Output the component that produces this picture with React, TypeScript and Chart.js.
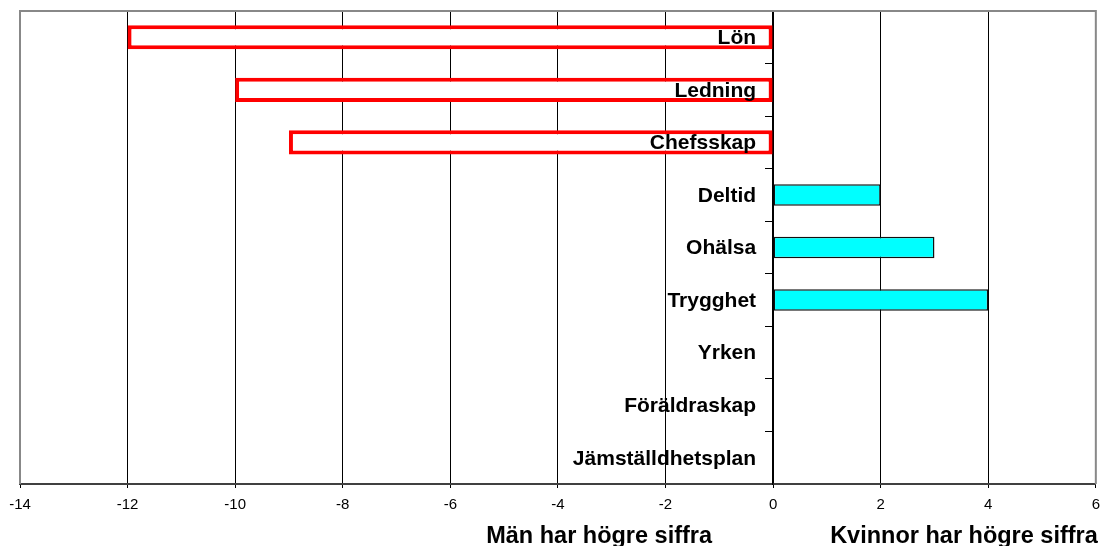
import React, { useEffect, useRef } from "react";
import { Chart, registerables } from "chart.js";

Chart.register(...registerables);

const categories = [
  "Lön",
  "Ledning",
  "Chefsskap",
  "Deltid",
  "Ohälsa",
  "Trygghet",
  "Yrken",
  "Föräldraskap",
  "Jämställdhetsplan",
];
const values = [-12, -10, -9, 2, 3, 4, 0, 0, 0];
const xTicks = [-14, -12, -10, -8, -6, -4, -2, 0, 2, 4, 6];
const leftTitle = "Män har högre siffra";
const rightTitle = "Kvinnor har högre siffra";

const FONT = "'Liberation Sans', Arial, sans-serif";

export default function App() {
  const ref = useRef<HTMLCanvasElement | null>(null);

  useEffect(() => {
    document.body.style.margin = "0";
    const canvas = ref.current;
    if (!canvas) return;

    const overlay = {
      id: "overlay",
      beforeDatasetsDraw(chart: any) {
        const { ctx, chartArea } = chart;
        ctx.save();
        ctx.strokeStyle = "#888888";
        ctx.lineWidth = 2;
        ctx.beginPath();
        ctx.moveTo(chartArea.left, chartArea.bottom);
        ctx.lineTo(chartArea.left, chartArea.top);
        ctx.lineTo(chartArea.right, chartArea.top);
        ctx.lineTo(chartArea.right, chartArea.bottom);
        ctx.stroke();
        ctx.restore();
      },
      afterDraw(chart: any) {
        const { ctx, chartArea, scales } = chart;
        const x0 = scales.x.getPixelForValue(0);
        ctx.save();
        ctx.fillStyle = "#000";
        ctx.textBaseline = "middle";
        ctx.textAlign = "right";
        ctx.font = `bold 21px ${FONT}`;
        categories.forEach((c, i) => {
          ctx.fillText(c, x0 - 17, scales.y.getPixelForValue(i) + 1);
        });
        ctx.font = `bold 23.5px ${FONT}`;
        ctx.textBaseline = "alphabetic";
        ctx.fillText(leftTitle, x0 - 61, chartArea.bottom + 59);
        ctx.fillText(rightTitle, chartArea.right + 2, chartArea.bottom + 59);
        ctx.restore();
      },
    };

    const chart = new Chart(canvas, {
      type: "bar",
      data: {
        labels: categories,
        datasets: [
          {
            data: values.map((v) => (v < 0 ? v : null)),
            backgroundColor: "#ffffff",
            borderColor: "#ff0000",
            borderWidth: 4,
            borderSkipped: false,
            barPercentage: 0.46,
            categoryPercentage: 1,
          },
          {
            data: values.map((v) => (v > 0 ? v : null)),
            backgroundColor: "#00ffff",
            borderColor: "#111111",
            borderWidth: 1.5,
            borderSkipped: false,
            barPercentage: 0.41,
            categoryPercentage: 1,
          },
        ],
      },
      options: {
        indexAxis: "y",
        animation: false,
        responsive: true,
        maintainAspectRatio: false,
        datasets: { bar: { grouped: false } },
        layout: { padding: { left: 20, right: 11, top: 11, bottom: 24 } },
        plugins: {
          legend: { display: false },
          tooltip: { enabled: false },
        },
        scales: {
          x: {
            type: "linear",
            min: -14,
            max: 6,
            afterBuildTicks: (scale: any) => {
              scale.ticks = xTicks.map((v) => ({ value: v }));
            },
            ticks: {
              color: "#000",
              font: { family: FONT, size: 15 },
              padding: 8,
              maxRotation: 0,
            },
            grid: {
              color: (c: any) =>
                c.tick && (c.tick.value === -14 || c.tick.value === 6)
                  ? "rgba(0,0,0,0)"
                  : "#000000",
              lineWidth: 1,
              tickLength: 4,
              tickColor: "#000",
            },
            border: { display: true, color: "#404040", width: 2 },
          },
          y: {
            type: "category",
            position: { x: 0 },
            offset: true,
            ticks: { display: false },
            grid: {
              display: true,
              offset: true,
              drawOnChartArea: false,
              drawTicks: true,
              tickLength: 7,
              color: "#000",
              tickColor: "#000",
            },
            border: { display: true, color: "#000", width: 1.5 },
          },
        },
      },
      plugins: [overlay],
    });

    return () => chart.destroy();
  }, []);

  return (
    <div style={{ position: "absolute", left: 0, top: 0, width: 1108, height: 546 }}>
      <canvas ref={ref} />
    </div>
  );
}
